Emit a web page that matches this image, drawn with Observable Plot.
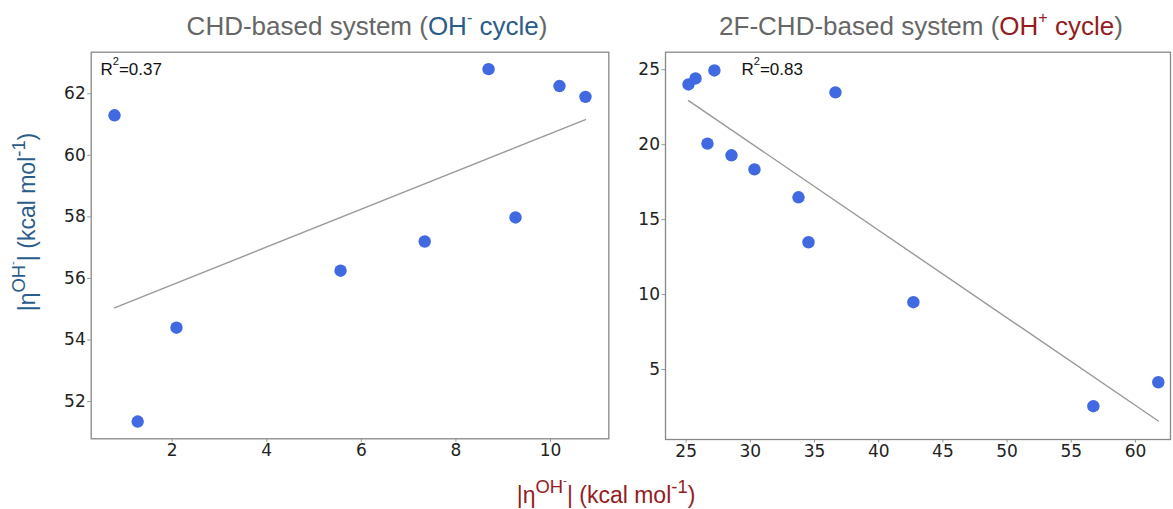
<!DOCTYPE html>
<html>
<head>
<meta charset="utf-8">
<script src="https://cdn.jsdelivr.net/npm/d3@7"></script>
<script src="https://cdn.jsdelivr.net/npm/@observablehq/plot@0.6"></script>
<style>
  body { margin: 0; background: #fff; }
  #wrap { position: relative; width: 1173px; height: 509px; overflow: hidden; background: #fff; }
  #wrap svg { position: absolute; top: 0; }
  .lbl { position: absolute; font-family: "Liberation Sans", Arial, sans-serif; white-space: nowrap; line-height: 1; }
  .title { font-size: 26px; color: #666; transform: translateX(-50%); }
  .blue { color: #2a5c8c; }
  .red { color: #941c1f; }
  .sup { font-size: 0.62em; position: relative; top: -0.75em; }
  .sup2 { font-size: 0.8em; position: relative; top: -0.55em; }
  .r2 { font-size: 17px; color: #111; }
  .r2 sup { font-size: 0.65em; position: relative; top: -0.25em; }
</style>
</head>
<body>
<div id="wrap"></div>
<script>
// CHD-based system (OH- cycle)
const chdX = [0.78, 1.27, 2.09, 5.56, 7.34, 8.69, 9.26, 10.19, 10.74];
const chdY = [61.3, 51.35, 54.4, 56.25, 57.2, 62.8, 57.98, 62.25, 61.9];
const chdXTicks = [2, 4, 6, 8, 10];
const chdYTicks = [52, 54, 56, 58, 60, 62];
const chdR2 = "0.37";

// 2F-CHD-based system (OH+ cycle)
const fX = [25.18, 25.73, 27.2, 26.66, 28.53, 30.32, 33.75, 34.53, 36.63, 42.7, 56.72, 61.78];
const fY = [24.02, 24.42, 24.95, 20.07, 19.29, 18.35, 16.49, 13.49, 23.49, 9.49, 2.55, 4.15];
const fXTicks = [25, 30, 35, 40, 45, 50, 55, 60];
const fYTicks = [5, 10, 15, 20, 25];
const fR2 = "0.83";

const chdData = chdX.map((x, i) => ({x, y: chdY[i]}));
const fData = fX.map((x, i) => ({x, y: fY[i]}));

function panel(data, opts) {
  return Plot.plot({
    width: opts.width, height: 470,
    marginLeft: opts.ml, marginRight: opts.mr, marginTop: 51.7, marginBottom: opts.mb,
    x: {domain: opts.xd, label: null},
    y: {domain: opts.yd, label: null},
    style: {fontFamily: "DejaVu Sans, sans-serif", fontSize: "17px", color: "#222", background: "transparent", overflow: "visible"},
    marks: [
      Plot.axisX({ticks: opts.xt, tickSize: 3.5, tickPadding: 2, stroke: "#999", fill: "#222", label: null}),
      Plot.axisY({ticks: opts.yt, tickSize: 3.5, tickPadding: 2, stroke: "#999", fill: "#222", label: null}),
      Plot.frame({stroke: "#888", strokeWidth: 1.3}),
      Plot.linearRegressionY(data, {x: "x", y: "y", ci: 0, stroke: "#999", strokeWidth: 1.4}),
      Plot.dot(data, {x: "x", y: "y", r: 6.2, fill: "royalblue", stroke: "none"})
    ]
  });
}

const wrap = document.getElementById("wrap");
const left = panel(chdData, {width: 620, ml: 90.7, mr: 11.7, mb: 31.7, xd: [0.287, 11.233], yd: [50.79, 63.35], xt: chdXTicks, yt: chdYTicks});
left.style.left = "0px";
wrap.appendChild(left);
const right = panel(fData, {width: 543, ml: 35, mr: 3, mb: 31, xd: [23.39, 62.73], yd: [0.33, 26.17], xt: fXTicks, yt: fYTicks});
right.style.left = "630px";
wrap.appendChild(right);

function addLabel(html, cls, css) {
  const d = document.createElement("div");
  d.className = "lbl " + cls;
  d.innerHTML = html;
  Object.assign(d.style, css);
  wrap.appendChild(d);
  return d;
}

addLabel('CHD-based system (<span class="blue">OH<span class="sup">-</span> cycle</span>)', "title", {left: "367px", top: "13px"});
addLabel('2F-CHD-based system (<span class="red">OH<span class="sup">+</span> cycle</span>)', "title", {left: "921px", top: "13px"});
addLabel('R<sup>2</sup>=' + chdR2, "r2", {left: "100.5px", top: "59px"});
addLabel('R<sup>2</sup>=' + fR2, "r2", {left: "741.5px", top: "59px"});
addLabel('|η<span class="sup2">OH<span class="sup">-</span></span>| (kcal mol<span class="sup2">-1</span>)', "red", {left: "606px", top: "484px", fontSize: "23px", transform: "translateX(-50%)"});
addLabel('|η<span class="sup2">OH<span class="sup">-</span></span>| (kcal mol<span class="sup2">-1</span>)', "blue", {left: "27px", top: "222px", fontSize: "23px", transform: "translate(-50%, -50%) rotate(-90deg)", transformOrigin: "50% 50%"});
</script>
</body>
</html>
